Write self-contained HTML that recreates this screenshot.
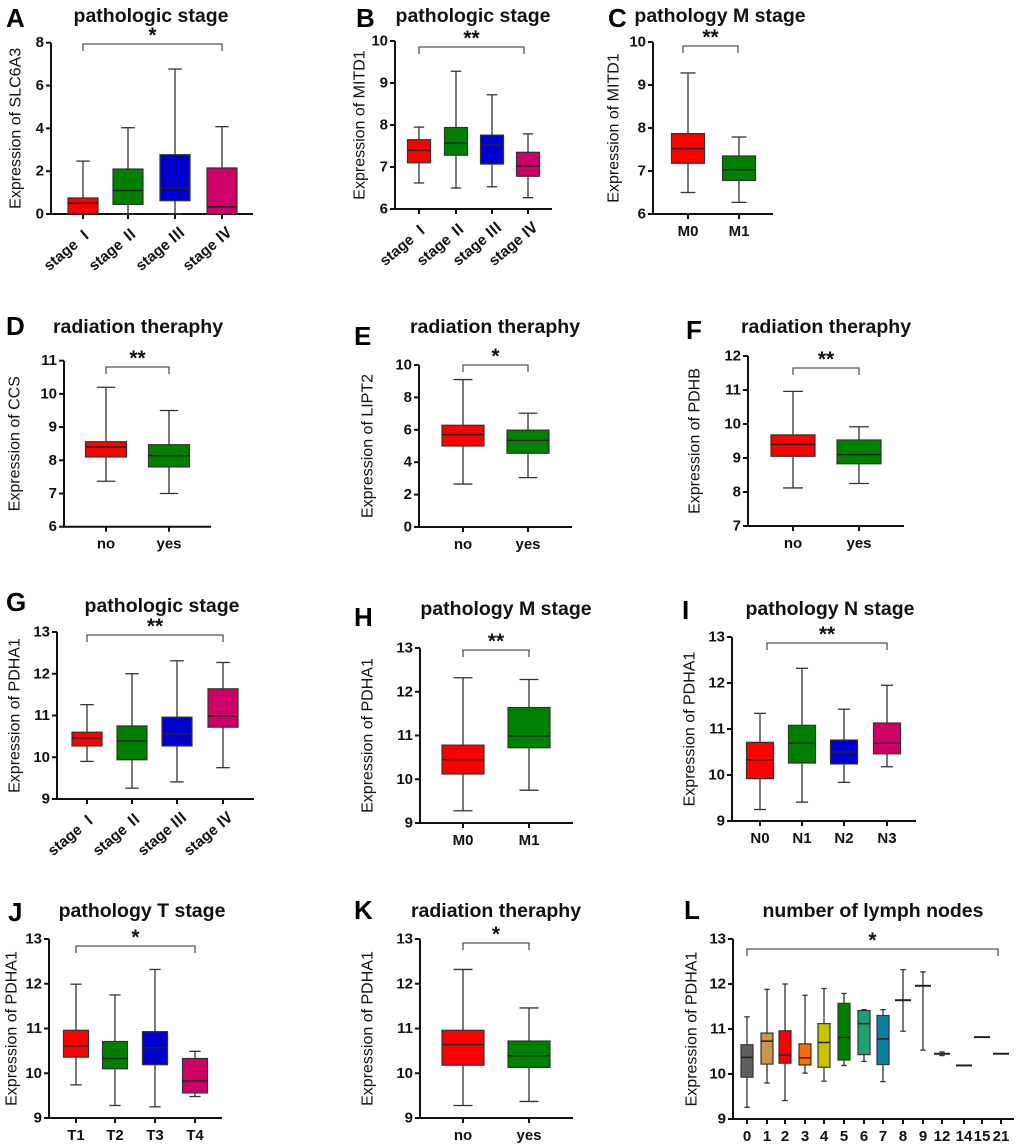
<!DOCTYPE html>
<html><head><meta charset="utf-8">
<style>
html,body{margin:0;padding:0;background:#fff;}
svg{display:block;font-family:"Liberation Sans",sans-serif;}
</style></head>
<body>
<svg id="fig" width="1020" height="1148" viewBox="0 0 1020 1148" xmlns="http://www.w3.org/2000/svg"></svg>
<script>
// ---- Panel A ----
const catsA=["stage Ⅰ","stage Ⅱ","stage Ⅲ","stage Ⅳ"];
const loA=[0,0,0,0];const q1A=[0.02,0.45,0.62,0.0];const medA=[0.5,1.1,1.2,0.33];const q3A=[0.75,2.1,2.77,2.15];const hiA=[2.47,4.03,6.77,4.08];
const ticksA=[0,2,4,6,8];
// ---- Panel B ----
const catsB=["stage Ⅰ","stage Ⅱ","stage Ⅲ","stage Ⅳ"];
const loB=[6.62,6.5,6.53,6.27];const q1B=[7.1,7.28,7.07,6.78];const medB=[7.4,7.57,7.52,7.02];const q3B=[7.65,7.94,7.76,7.35];const hiB=[7.95,9.28,8.72,7.79];
const ticksB=[6,7,8,9,10];
// ---- Panel C ----
const catsC=["M0","M1"];
const loC=[6.5,6.27];const q1C=[7.18,6.78];const medC=[7.52,7.03];const q3C=[7.87,7.35];const hiC=[9.28,7.79];
const ticksC=[6,7,8,9,10];
// ---- Panel D ----
const catsD=["no","yes"];
const loD=[7.37,7.0];const q1D=[8.1,7.8];const medD=[8.4,8.14];const q3D=[8.56,8.47];const hiD=[10.2,9.5];
const ticksD=[6,7,8,9,10,11];
// ---- Panel E ----
const catsE=["no","yes"];
const loE=[2.65,3.05];const q1E=[5.0,4.55];const medE=[5.7,5.35];const q3E=[6.28,5.98];const hiE=[9.1,7.02];
const ticksE=[0,2,4,6,8,10];
// ---- Panel F ----
const catsF=["no","yes"];
const loF=[8.12,8.25];const q1F=[9.05,8.83];const medF=[9.4,9.1];const q3F=[9.68,9.53];const hiF=[10.96,9.92];
const ticksF=[7,8,9,10,11,12];
// ---- Panel G ----
const catsG=["stage Ⅰ","stage Ⅱ","stage Ⅲ","stage Ⅳ"];
const loG=[9.9,9.26,9.41,9.75];const q1G=[10.27,9.94,10.27,10.72];const medG=[10.46,10.39,10.56,10.99];const q3G=[10.6,10.75,10.96,11.64];const hiG=[11.26,12.0,12.31,12.27];
const ticksG=[9,10,11,12,13];
// ---- Panel H ----
const catsH=["M0","M1"];
const loH=[9.28,9.75];const q1H=[10.12,10.72];const medH=[10.45,10.99];const q3H=[10.78,11.64];const hiH=[12.32,12.28];
const ticksH=[9,10,11,12,13];
// ---- Panel I ----
const catsI=["N0","N1","N2","N3"];
const loI=[9.25,9.41,9.84,10.18];const q1I=[9.92,10.26,10.24,10.46];const medI=[10.33,10.69,10.5,10.69];const q3I=[10.71,11.08,10.76,11.13];const hiI=[11.34,12.32,11.43,11.95];
const ticksI=[9,10,11,12,13];
// ---- Panel J ----
const catsJ=["T1","T2","T3","T4"];
const loJ=[9.74,9.28,9.25,9.48];const q1J=[10.36,10.1,10.19,9.56];const medJ=[10.61,10.33,10.57,9.83];const q3J=[10.96,10.71,10.93,10.33];const hiJ=[11.99,11.75,12.32,10.49];
const ticksJ=[9,10,11,12,13];
// ---- Panel K ----
const catsK=["no","yes"];
const loK=[9.28,9.37];const q1K=[10.18,10.13];const medK=[10.64,10.39];const q3K=[10.96,10.72];const hiK=[12.32,11.46];
const ticksK=[9,10,11,12,13];
// ---- Panel L ----
const catsL=["0","1","2","3","4","5","6","7","8","9","12","14","15","21"];
const loL=[9.26,9.8,9.41,10.02,9.84,10.19,10.28,9.83,10.95,10.53,10.41,10.19,10.82,10.45];
const q1L=[9.93,10.22,10.24,10.2,10.15,10.31,10.43,10.21,11.64,11.96,10.44,10.19,10.82,10.45];
const medL=[10.37,10.73,10.42,10.36,10.7,10.81,11.12,10.78,11.64,11.96,10.45,10.19,10.82,10.45];
const q3L=[10.65,10.91,10.96,10.67,11.12,11.57,11.41,11.3,11.64,11.96,10.46,10.19,10.82,10.45];
const hiL=[11.27,11.88,12.0,11.75,11.9,11.79,11.43,11.43,12.32,12.27,10.49,10.19,10.82,10.45];
const ticksL=[9,10,11,12,13];

const RED="#ff0000",GRN="#008000",BLU="#0000cc",MAG="#cc0066";
const colsL=["#5f5f5f","#c89650","#ff0000","#ff6a00","#c8c400","#008000","#1fa070","#0e7ea0","none","none","none","none","none","none"];

const panels=[
 {id:"a",letter:"A",lx:6,ly:27,title:"pathologic stage",tx:151,ty:22,ytitle:"Expression of SLC6A3",ytx:16,ax:51,x1:253,yTop:42.7,yBot:214,ymin:0,ymax:8,ticks:ticksA,cats:catsA,cx:[83,128,175,222],bw:30,cols:[RED,GRN,BLU,MAG],lo:loA,q1:q1A,med:medA,q3:q3A,hi:hiA,rot:true,bk:[83,222,44],star:"*"},
 {id:"b",letter:"B",lx:356,ly:27,title:"pathologic stage",tx:473,ty:22,ytitle:"Expression of MITD1",ytx:360,ax:395,x1:552,yTop:41,yBot:209,ymin:6,ymax:10,ticks:ticksB,cats:catsB,cx:[419,456,492,528],bw:23,cols:[RED,GRN,BLU,MAG],lo:loB,q1:q1B,med:medB,q3:q3B,hi:hiB,rot:true,bk:[419,524,47],star:"**"},
 {id:"c",letter:"C",lx:608,ly:27,title:"pathology M stage",tx:720,ty:22,ytitle:"Expression of MITD1",ytx:614,ax:653,x1:773,yTop:42,yBot:214,ymin:6,ymax:10,ticks:ticksC,cats:catsC,cx:[688,739],bw:33,cols:[RED,GRN],lo:loC,q1:q1C,med:medC,q3:q3C,hi:hiC,rot:false,bk:[683,738,46],star:"**"},
 {id:"d",letter:"D",lx:6,ly:335,title:"radiation theraphy",tx:138,ty:333,ytitle:"Expression of CCS",ytx:15,ax:64,x1:211,yTop:360.7,yBot:526.7,ymin:6,ymax:11,ticks:ticksD,cats:catsD,cx:[106,169],bw:41,cols:[RED,GRN],lo:loD,q1:q1D,med:medD,q3:q3D,hi:hiD,rot:false,bk:[106,169,367],star:"**"},
 {id:"e",letter:"E",lx:354,ly:345,title:"radiation theraphy",tx:495,ty:333,ytitle:"Expression of LIPT2",ytx:368,ax:419,x1:572,yTop:365,yBot:527,ymin:0,ymax:10,ticks:ticksE,cats:catsE,cx:[463,528],bw:42,cols:[RED,GRN],lo:loE,q1:q1E,med:medE,q3:q3E,hi:hiE,rot:false,bk:[463,528,365],star:"*"},
 {id:"f",letter:"F",lx:686,ly:339,title:"radiation theraphy",tx:826,ty:333,ytitle:"Expression of PDHB",ytx:695,ax:748,x1:904,yTop:356,yBot:526,ymin:7,ymax:12,ticks:ticksF,cats:catsF,cx:[793,859],bw:44,cols:[RED,GRN],lo:loF,q1:q1F,med:medF,q3:q3F,hi:hiF,rot:false,bk:[793,859,368],star:"**"},
 {id:"g",letter:"G",lx:6,ly:611,title:"pathologic stage",tx:162,ty:612,ytitle:"Expression of PDHA1",ytx:15,ax:57,x1:254,yTop:632,yBot:799,ymin:9,ymax:13,ticks:ticksG,cats:catsG,cx:[87,132,177,223],bw:30,cols:[RED,GRN,BLU,MAG],lo:loG,q1:q1G,med:medG,q3:q3G,hi:hiG,rot:true,bk:[87,223,635],star:"**"},
 {id:"h",letter:"H",lx:354,ly:626,title:"pathology M stage",tx:506,ty:615,ytitle:"Expression of PDHA1",ytx:368,ax:420,x1:573,yTop:648,yBot:823,ymin:9,ymax:13,ticks:ticksH,cats:catsH,cx:[463,529],bw:42,cols:[RED,GRN],lo:loH,q1:q1H,med:medH,q3:q3H,hi:hiH,rot:false,bk:[463,529,650],star:"**"},
 {id:"i",letter:"I",lx:682,ly:619,title:"pathology N stage",tx:830,ty:615,ytitle:"Expression of PDHA1",ytx:690,ax:732,x1:916,yTop:637,yBot:821,ymin:9,ymax:13,ticks:ticksI,cats:catsI,cx:[760,802,844,887],bw:27,cols:[RED,GRN,BLU,MAG],lo:loI,q1:q1I,med:medI,q3:q3I,hi:hiI,rot:false,bk:[767,887,643],star:"**"},
 {id:"j",letter:"J",lx:8,ly:921,title:"pathology T stage",tx:142,ty:917,ytitle:"Expression of PDHA1",ytx:12,ax:49,x1:222,yTop:939,yBot:1118,ymin:9,ymax:13,ticks:ticksJ,cats:catsJ,cx:[76,115,155,195],bw:25,cols:[RED,GRN,BLU,MAG],lo:loJ,q1:q1J,med:medJ,q3:q3J,hi:hiJ,rot:false,bk:[76,195,946],star:"*"},
 {id:"k",letter:"K",lx:354,ly:919,title:"radiation theraphy",tx:496,ty:917,ytitle:"Expression of PDHA1",ytx:368,ax:420,x1:573,yTop:939,yBot:1118,ymin:9,ymax:13,ticks:ticksK,cats:catsK,cx:[463,529],bw:42,cols:[RED,GRN],lo:loK,q1:q1K,med:medK,q3:q3K,hi:hiK,rot:false,bk:[463,529,943],star:"*"},
 {id:"l",letter:"L",lx:684,ly:919,title:"number of lymph nodes",tx:873,ty:917,ytitle:"Expression of PDHA1",ytx:692,ax:733,x1:1014,yTop:939,yBot:1119,ymin:9,ymax:13,ticks:ticksL,cats:catsL,cx:[747,767,785,805,824,844,864,883,903,923,942,964,982,1001],bw:12,cols:colsL,lo:loL,q1:q1L,med:medL,q3:q3L,hi:hiL,rot:false,bk:[747,998,949],star:"*"}
];

const NS="http://www.w3.org/2000/svg";
const fig=document.getElementById('fig');
function mk(tag,attrs,parent,txt){const e=document.createElementNS(NS,tag);for(const k in attrs)e.setAttribute(k,attrs[k]);if(txt!==undefined)e.textContent=txt;parent.appendChild(e);return e;}
const STK="#333";

panels.forEach(p=>{
 const g=mk('g',{},fig);
 
 
 const y=v=>p.yBot-(v-p.ymin)/(p.ymax-p.ymin)*(p.yBot-p.yTop);
 const L=mk('text',{x:p.lx,y:p.ly,'font-size':26,'font-weight':'bold',fill:'#000'},g,p.letter);
 
 
 const T=mk('text',{x:p.tx,y:p.ty,'font-size':19.5,'font-weight':'bold','text-anchor':'middle',fill:'#111'},g,p.title);
 
 
 const ym=(p.yTop+p.yBot)/2;
 const YT=mk('text',{x:p.ytx,y:ym,'font-size':16,'text-anchor':'middle','dominant-baseline':'central',transform:`rotate(-90 ${p.ytx} ${ym})`,fill:'#111'},g,p.ytitle);
 
 
 const ya=mk('line',{x1:p.ax,y1:p.yTop,x2:p.ax,y2:p.yBot+1,stroke:'#111','stroke-width':2},g);
 
 
 const xa=mk('line',{x1:p.ax-1,y1:p.yBot,x2:p.x1,y2:p.yBot,stroke:'#111','stroke-width':2},g);
 
 
 p.ticks.forEach(t=>{
  mk('line',{x1:p.ax-5,y1:y(t),x2:p.ax,y2:y(t),stroke:'#111','stroke-width':2},g);
  const tl=mk('text',{x:p.ax-7,y:y(t),'font-size':15,'font-weight':'bold','text-anchor':'end','dominant-baseline':'central',fill:'#111'},g,String(t));
  
  
 });
 p.cats.forEach((c,i)=>{
  const cx=p.cx[i];
  mk('line',{x1:cx,y1:p.yBot,x2:cx,y2:p.yBot+5,stroke:'#111','stroke-width':2},g);
  let lab;
  if(p.rot){
   const lx=cx+4,ly=p.yBot+12;
   lab=mk('text',{x:lx,y:ly,'font-size':15,'font-weight':'bold','text-anchor':'end','dominant-baseline':'hanging',transform:`rotate(-40 ${lx} ${ly})`,fill:'#111',
     'font-family':'"Liberation Sans","Noto Sans CJK SC",sans-serif'},g,c);
  } else {
   lab=mk('text',{x:cx,y:p.yBot+22,'font-size':15,'font-weight':'bold','text-anchor':'middle',fill:'#111'},g,c);
  }
  
  
  const bg=mk('g',{},g);
  
  
  const hw=p.bw/2,cw=Math.max(p.bw*0.45,5);
  const yl=y(p.lo[i]),yh=y(p.hi[i]),yq1=y(p.q1[i]),yq3=y(p.q3[i]),ym2=y(p.med[i]);
  if(yl!==yh){
   mk('line',{x1:cx,y1:yh,x2:cx,y2:yl,stroke:STK,'stroke-width':1.3},bg);
   mk('line',{x1:cx-cw/2,y1:yh,x2:cx+cw/2,y2:yh,stroke:STK,'stroke-width':1.3},bg);
   mk('line',{x1:cx-cw/2,y1:yl,x2:cx+cw/2,y2:yl,stroke:STK,'stroke-width':1.3},bg);
  }
  if(p.cols[i]!=='none' && yq1!==yq3){
   mk('rect',{x:cx-hw,y:yq3,width:p.bw,height:yq1-yq3,fill:p.cols[i],stroke:STK,'stroke-width':1.2},bg);
   mk('line',{x1:cx-hw,y1:ym2,x2:cx+hw,y2:ym2,stroke:'#222','stroke-width':1.5},bg);
  } else {
   mk('line',{x1:cx-hw-2,y1:ym2,x2:cx+hw+2,y2:ym2,stroke:'#222','stroke-width':2},bg);
  }
 });
 const [b0,b1,by]=p.bk;
 const br=mk('path',{d:`M${b0} ${by+7}V${by}H${b1}V${by+7}`,fill:'none',stroke:'#555','stroke-width':1.3},g);
 
 
 const st=mk('text',{x:(b0+b1)/2,y:by-2,'font-size':21,'font-weight':'bold','text-anchor':'middle',fill:'#111'},g,p.star);
 
 
});
</script>
</body></html>
